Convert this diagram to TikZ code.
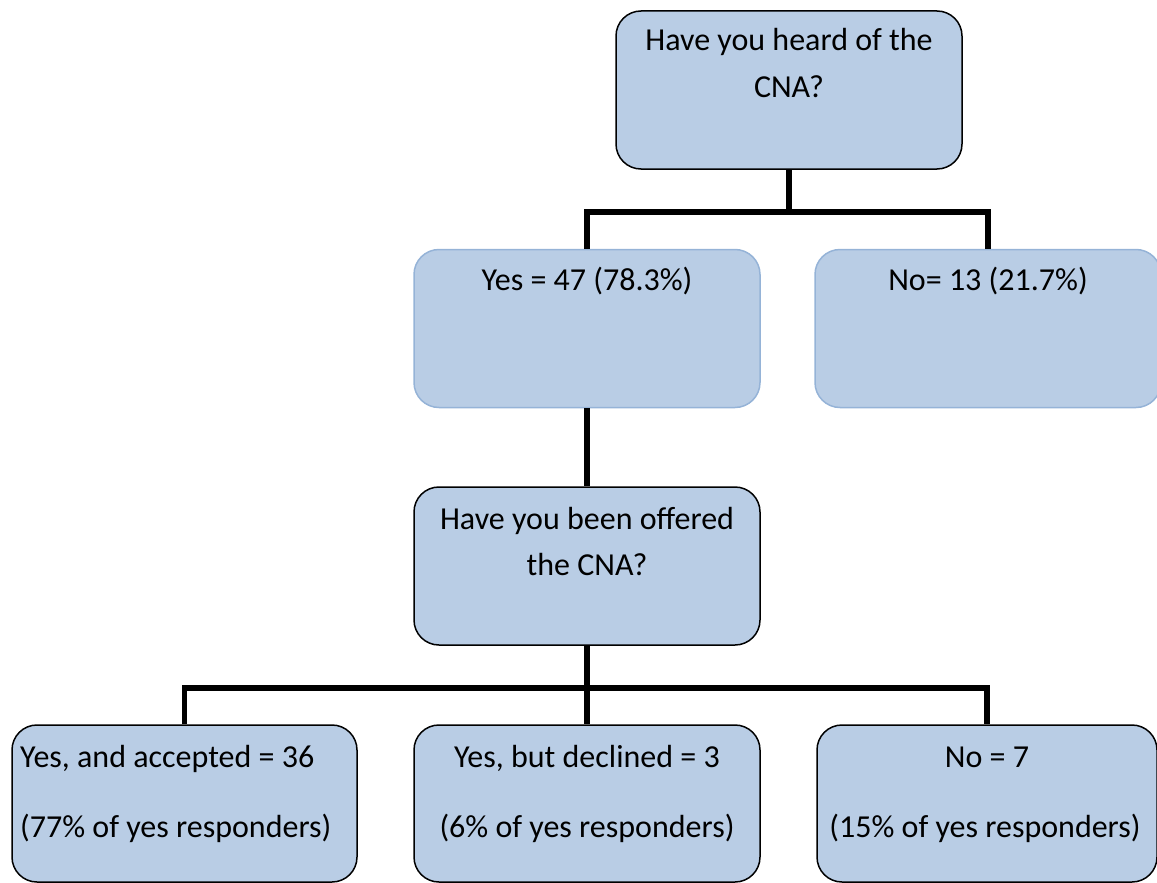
\documentclass[tikz,border=0pt]{standalone}
\usepackage{fontspec}
\setmainfont{Carlito}
\definecolor{boxfill}{HTML}{B9CDE5}
\definecolor{boxedge}{HTML}{95B3D7}
\begin{document}
\begin{tikzpicture}[x=1pt,y=-1pt,
  basebox/.style={rectangle, rounded corners=25pt, fill=boxfill, inner sep=0pt,
    minimum width=346pt, minimum height=158pt, line width=1.5pt},
  darkbox/.style={basebox, draw=black},
  lightbox/.style={basebox, draw=boxedge},
  conn/.style={line width=5.5pt, line join=miter, draw=black},
  txt/.style={font=\fontsize{32}{46}\selectfont, inner sep=0pt, anchor=base}]
\clip (0,0) rectangle (1157,883);
\useasboundingbox (0,0) rectangle (1157,883);
% boxes
\node[darkbox] (top) at (789,90) {};
\node[lightbox] (yes) at (587,328.5) {};
\node[lightbox] (no) at (988,328.5) {};
\node[darkbox] (offer) at (587,566) {};
\node[darkbox, minimum width=345pt, minimum height=157pt] (acc) at (184.5,803.5) {};
\node[darkbox, minimum height=157pt] (dec) at (587,803.5) {};
\node[darkbox, minimum width=340pt, minimum height=157pt] (nob) at (987,803.5) {};
% connectors
\coordinate (j1) at (789,212);
\coordinate (j2) at (587,688);
\draw[conn] (top.south) -- (j1);
\draw[conn] (yes.north) |- (j1) -| (no.north);
\draw[conn] (yes.south) -- (offer.north);
\draw[conn] (offer.south) -- (j2);
\draw[conn] (acc.north) |- (j2) -| (nob.north);
\draw[conn] (j2) -- (dec.north);
% texts
\node[txt] (t1) at (789,51) {Have you heard of the};
\node[txt] (t2) at (789,97) {CNA?};
\node[txt] (t3) at (587,290) {Yes = 47 (78.3\%)};
\node[txt] (t4) at (988,290) {No= 13 (21.7\%)};
\node[txt] (t5) at (587,529) {Have you been offered};
\node[txt] (t6) at (587,575) {the CNA?};
\node[txt, anchor=base west] (t7) at (20,767) {Yes, and accepted = 36};
\node[txt, anchor=base west] (t8) at (20,837) {(77\% of yes responders)};
\node[txt] (t9) at (587,767) {Yes, but declined = 3};
\node[txt] (t10) at (587,837) {(6\% of yes responders)};
\node[txt] (t11) at (987,767) {No = 7};
\node[txt] (t12) at (985,837) {(15\% of yes responders)};
\end{tikzpicture}
\end{document}
